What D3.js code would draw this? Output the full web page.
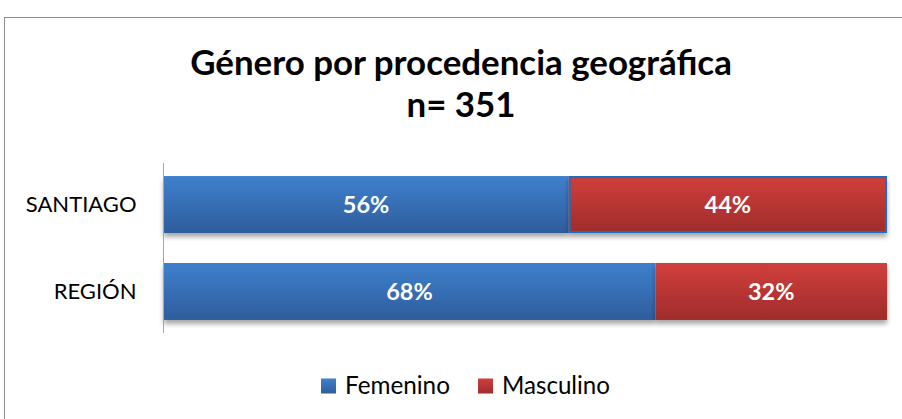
<!DOCTYPE html>
<html><head><meta charset="utf-8">
<script src="https://cdn.jsdelivr.net/npm/d3@7/dist/d3.min.js"></script>
<style>body{margin:0;background:#fff;} svg{display:block;font-family:Lato,"Open Sans",sans-serif;}</style>
</head><body>
<svg id="c" width="902" height="419"></svg>
<script>
const categories = ["SANTIAGO", "REGIÓN"];
const seriesNames = ["Femenino", "Masculino"];
const femenino = [56, 68];
const masculino = [44, 32];
const titleLines = ["Género por procedencia geográfica", "n= 351"];

const svg = d3.select("#c");
const defs = svg.append("defs");
function grad(id, top, bottom){
  const g = defs.append("linearGradient").attr("id", id).attr("x1",0).attr("y1",0).attr("x2",0).attr("y2",1);
  g.append("stop").attr("offset","0%").attr("stop-color",top);
  g.append("stop").attr("offset","100%").attr("stop-color",bottom);
}
grad("gBlue", "#3e80cd", "#2e5d9c");
grad("gRed", "#d03f3c", "#a02c2b");
const colors = ["url(#gBlue)", "url(#gRed)"];
const f = defs.append("filter").attr("id","sh").attr("x","-5%").attr("y","-20%").attr("width","110%").attr("height","160%");
f.append("feGaussianBlur").attr("in","SourceAlpha").attr("stdDeviation",2.5);
f.append("feOffset").attr("dx",0).attr("dy",4).attr("result","b");
f.append("feComponentTransfer").append("feFuncA").attr("type","linear").attr("slope",0.35);
const m = f.append("feMerge"); m.append("feMergeNode"); m.append("feMergeNode").attr("in","SourceGraphic");

function fit(sel, target){
  const base = +sel.attr("font-size");
  const w = sel.node().getComputedTextLength();
  sel.attr("font-size", base * target / w);
  return base * target / w;
}

// frame
svg.append("rect").attr("x",4.5).attr("y",17.5).attr("width",1000).attr("height",1000)
  .attr("fill","none").attr("stroke","#8c8c8c").attr("stroke-width",1);

// title
const tl = svg.append("g");
const t1 = tl.append("text").attr("x",461).attr("y",75).attr("text-anchor","middle")
  .attr("font-weight","bold").attr("font-size",30).attr("fill","#000").text(titleLines[0]);
const fs = fit(t1, 542);
tl.append("text").attr("x",461).attr("y",117).attr("text-anchor","middle")
  .attr("font-weight","bold").attr("font-size",fs).attr("fill","#000").text(titleLines[1]);

const x = d3.scaleLinear().domain([0,100]).range([163.5, 887]);
const y = d3.scaleBand().domain(categories).range([163, 333]).paddingInner(0.345).paddingOuter(0.15);

const stackData = categories.map((c,i)=>({cat:c, Femenino:femenino[i], Masculino:masculino[i]}));
const stacked = d3.stack().keys(seriesNames)(stackData);

const gBars = svg.append("g");
stacked.forEach((s,si)=>{
  gBars.selectAll(null).data(s).enter().append("rect")
    .attr("x", d=>x(d[0])).attr("y", d=>y(d.data.cat))
    .attr("width", d=>x(d[1])-x(d[0])).attr("height", y.bandwidth())
    .attr("fill", colors[si]).attr("filter","url(#sh)");
});
// selected outline on SANTIAGO Masculino
const sel = stacked[1][0];
gBars.append("rect").attr("x", x(sel[0])+1).attr("y", y(sel.data.cat)+1)
  .attr("width", x(sel[1])-x(sel[0])-2).attr("height", y.bandwidth()-2)
  .attr("fill","none").attr("stroke","#1a6fc4").attr("stroke-width",2);

// labels
stacked.forEach((s,si)=>{
  gBars.selectAll(null).data(s).enter().append("text")
    .attr("x", d=>(x(d[0])+x(d[1]))/2).attr("y", d=>y(d.data.cat)+y.bandwidth()/2)
    .attr("dy","0.36em").attr("text-anchor","middle").attr("fill","#fff")
    .attr("font-weight","bold").attr("font-size",23.5)
    .text(d=>(d[1]-d[0]) + "%");
});

// axis
const ax = svg.append("g").attr("transform","translate(163.5,0)").call(d3.axisLeft(y).tickSize(0).tickPadding(27));
ax.select(".domain").attr("stroke","#a6a6a6").attr("stroke-width",1).attr("d","M0,163V333");
ax.selectAll("text").attr("font-size",22).attr("fill","#000").attr("font-family","Lato,sans-serif").attr("dy","0.36em");

// legend
const legX = [321, 478];
const legW = [105, 108];
const lg = svg.append("g");
seriesNames.forEach((n,i)=>{
  lg.append("rect").attr("x",legX[i]).attr("y",378.5).attr("width",15).attr("height",15)
    .attr("fill", colors[i]);
  const t = lg.append("text").attr("x",legX[i]+24).attr("y",385).attr("dy","0.36em")
    .attr("font-size",22).attr("fill","#000").text(n);
  fit(t, legW[i]);
});
</script>
</body></html>
